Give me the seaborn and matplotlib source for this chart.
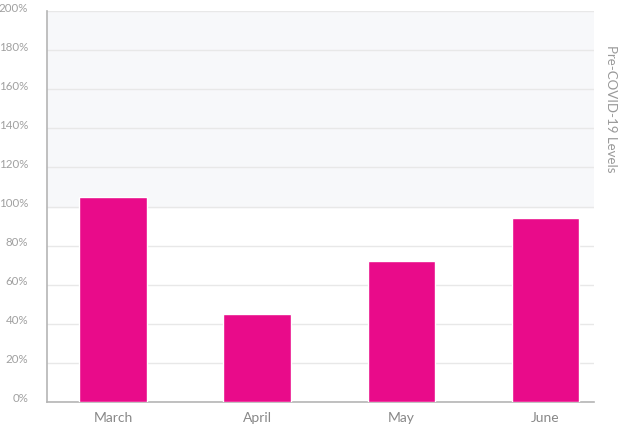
import matplotlib
matplotlib.use("Agg")
import matplotlib.pyplot as plt
import matplotlib.transforms as mtransforms
import seaborn as sns
import pandas as pd

months = ["March", "April", "May", "June"]
levels = [105, 45, 72, 94]
y_ticks = [0, 20, 40, 60, 80, 100, 120, 140, 160, 180, 200]

df = pd.DataFrame({"month": months, "level": levels})

sns.set_style("white")
plt.rcParams["font.family"] = ["Lato", "DejaVu Sans"]

fig = plt.figure(figsize=(6.18, 4.28), dpi=100)
ax = fig.add_axes([47 / 618, 26 / 428, 547 / 618, 391 / 428])

# shaded band above pre-covid level
ax.axhspan(100, 200, color="#f7f8fa", zorder=0)

sns.barplot(data=df, x="month", y="level", color="#e90b8a", width=0.47,
            saturation=1, ax=ax, zorder=3)

ax.set_ylim(0, 200)
ax.set_xlim(-0.458, 3.336)
ax.set_yticks(y_ticks)
ax.set_yticklabels([f"{v}%" for v in y_ticks])
ax.grid(axis="y", color="#e8e8e8", linewidth=1, zorder=1)
ax.set_axisbelow(True)

for s in ["top", "right"]:
    ax.spines[s].set_visible(False)
for s in ["left", "bottom"]:
    ax.spines[s].set_color("#b5b5b5")
    ax.spines[s].set_linewidth(1.2)

ax.tick_params(axis="y", length=0, pad=13.5, labelsize=8.3, labelcolor="#a0a0a0")
ax.tick_params(axis="x", length=0, pad=7, labelsize=10, labelcolor="#888888")
ax.set_xlabel("")
ax.set_ylabel("")

# nudge y tick labels slightly above their gridlines
offset = mtransforms.ScaledTranslation(0, 4 / 100, fig.dpi_scale_trans)
for lbl in ax.get_yticklabels():
    lbl.set_transform(lbl.get_transform() + offset)

ax.text(1.02, 0.75, "Pre-COVID-19 Levels", transform=ax.transAxes,
        rotation=270, ha="left", va="center", fontsize=9.5, color="#999999")

fig.savefig("out.png", dpi=100)
